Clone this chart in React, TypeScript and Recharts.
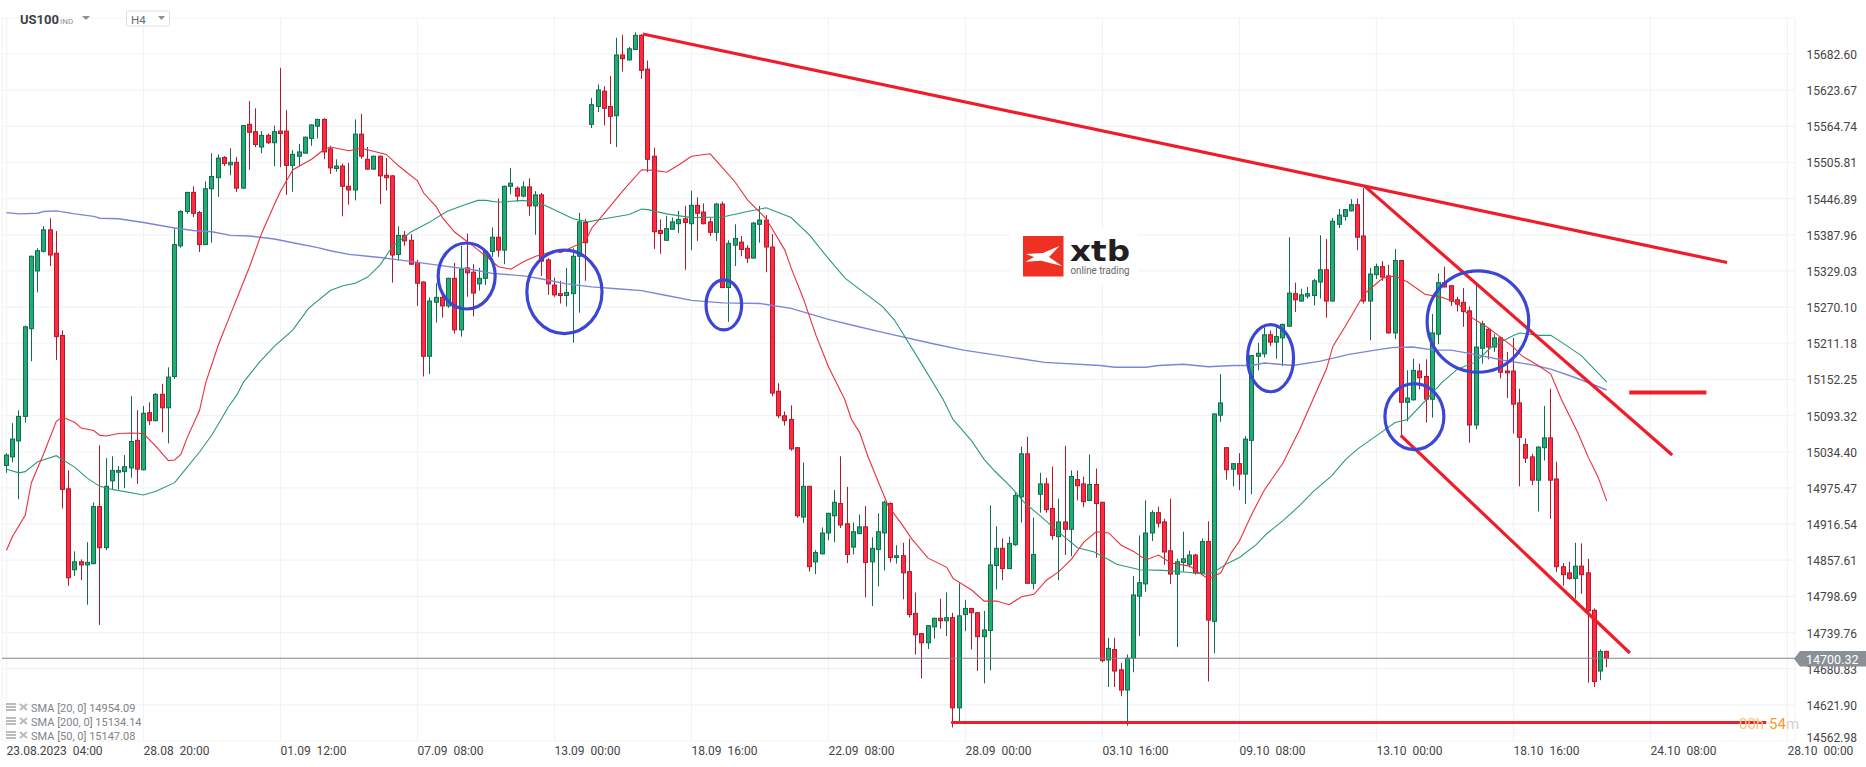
import React from "react";
import { ComposedChart, Bar, Line, XAxis, YAxis, CartesianGrid, ReferenceDot, ReferenceLine } from "recharts";

const opens = [
15012,15026,15052,15092,15235,15329,15361,15396,15358,15224,
14974,14842,14855,14850,14852,14945,14878,14987,15001,15002,
15008,15053,15005,15098,15085,15128,15106,15157,15370,15426,
15457,15424,15372,15463,15481,15514,15502,15506,15464,15568,
15556,15531,15550,15538,15557,15557,15501,15516,15521,15545,
15565,15576,15528,15496,15500,15467,15461,15552,15511,15495,
15516,15485,15484,15356,15387,15379,15343,15311,15190,15278,
15286,15272,15317,15233,15334,15327,15308,15317,15361,15384,
15363,15467,15464,15451,15466,15435,15453,15347,15306,15292,
15289,15292,15353,15408,15568,15597,15622,15597,15582,15681,
15673,15690,15713,15658,15516,15395,15379,15397,15406,15414,
15406,15436,15425,15409,15392,15438,15302,15371,15376,15366,
15350,15405,15412,15368,15133,15093,15087,15041,14928,14978,
14855,14868,14902,14930,14950,14917,14879,14901,14912,14855,
14875,14902,14950,14862,14865,14839,14771,14738,14723,14749,
14763,14759,14764,14617,14769,14779,14772,14733,14743,14849,
14877,14844,14883,14961,15031,14820,14965,14982,14942,14896,
14920,14908,14989,14982,14955,14981,14952,14695,14712,14679,
14646,14698,14799,14819,14902,14935,14920,14873,14835,14854,
14851,14866,14837,14888,14758,15094,15041,15006,15015,14998,
15053,15190,15194,15225,15213,15220,15239,15292,15280,15288,
15289,15311,15331,15280,15405,15418,15427,15437,15386,15280,
15323,15336,15321,15228,15346,15115,15119,15166,15157,15120,
15226,15310,15305,15282,15278,15264,15078,15203,15234,15205,
15220,15166,15166,15114,15046,15026,14988,15041,15057,14990,
14847,14837,14828,14848,14837,14776,14677,14709,
];
const highs = [
15032,15081,15102,15240,15354,15366,15402,15415,15394,15232,
15004,14872,14859,14887,14952,15045,15024,15027,15011,15029,
15125,15102,15109,15115,15130,15145,15172,15399,15428,15458,
15467,15427,15475,15521,15519,15516,15529,15515,15567,15606,
15594,15557,15553,15566,15660,15591,15526,15536,15548,15568,
15577,15578,15533,15511,15504,15505,15576,15585,15531,15517,
15517,15513,15485,15402,15394,15389,15347,15312,15286,15309,
15298,15318,15342,15370,15390,15340,15334,15364,15400,15447,
15468,15497,15467,15475,15480,15459,15456,15350,15318,15313,
15334,15366,15424,15414,15611,15633,15630,15647,15709,15714,
15694,15718,15715,15672,15530,15413,15419,15416,15427,15435,
15460,15449,15439,15416,15440,15442,15379,15405,15386,15371,
15409,15435,15420,15389,15146,15100,15110,15042,15017,14979,
14874,14911,14935,14972,15027,14977,14919,14932,14946,14895,
14934,14955,14952,14882,14886,14893,14805,14739,14752,14764,
14795,14805,14772,14820,14793,14780,14773,14775,14947,14913,
14893,14896,14968,15043,15059,14927,15000,14992,15010,14958,
15044,15004,15004,14994,15030,15007,14953,14731,14731,14690,
14704,14832,14898,14955,14939,14945,14925,14958,14860,14904,
14873,14868,14893,14921,15097,15161,15042,15016,15032,15060,
15192,15212,15237,15232,15239,15243,15384,15310,15300,15303,
15316,15387,15381,15415,15430,15430,15446,15447,15464,15334,
15341,15345,15339,15365,15347,15167,15186,15178,15185,15259,
15325,15336,15306,15287,15301,15271,15307,15248,15236,15226,
15222,15197,15220,15137,15056,15031,15043,15109,15137,15018,
14853,14855,14886,14885,14860,14779,14712,14710,
];
const lows = [
15000,15017,14957,15082,15182,15294,15359,15337,15184,14942,
14816,14832,14825,14785,14851,14752,14874,14973,14973,14975,
14992,14982,15004,15078,15084,15066,15048,15153,15367,15422,
15417,15360,15371,15375,15450,15500,15485,15458,15463,15494,
15531,15521,15536,15500,15498,15453,15458,15500,15520,15533,
15545,15511,15487,15491,15418,15437,15444,15512,15494,15494,
15438,15460,15310,15346,15370,15339,15272,15157,15161,15245,
15253,15269,15227,15222,15287,15255,15297,15306,15352,15352,
15340,15454,15442,15449,15419,15388,15321,15290,15287,15276,
15271,15212,15261,15313,15562,15588,15566,15536,15531,15654,
15672,15689,15642,15490,15365,15357,15378,15396,15391,15331,
15363,15378,15405,15386,15378,15301,15246,15337,15353,15342,
15349,15375,15327,15125,15089,15077,15036,14927,14918,14839,
14835,14867,14890,14887,14910,14853,14867,14900,14797,14783,
14815,14841,14854,14852,14794,14764,14704,14665,14713,14730,
14746,14734,14585,14595,14742,14712,14677,14657,14678,14810,
14825,14843,14881,14919,14819,14810,14935,14935,14891,14825,
14866,14864,14955,14944,14954,14862,14691,14651,14651,14636,
14588,14675,14734,14806,14889,14911,14850,14819,14716,14839,
14846,14834,14834,14660,14706,15083,14989,14978,14972,14949,
14965,15167,15188,15207,15186,15174,15238,15262,15279,15284,
15273,15284,15253,15279,15399,15411,15426,15363,15276,15216,
15316,15313,15227,15218,15062,15084,15118,15136,15082,15090,
15210,15302,15272,15263,15238,15049,15071,15178,15185,15197,
15154,15122,15064,14978,15016,14980,14937,15020,14925,14838,
14816,14826,14795,14803,14658,14651,14662,14683,
];
const closes = [
15029,15055,15092,15238,15353,15362,15396,15355,15222,14973,
14829,14855,14850,14854,14945,14878,14978,15004,15004,15010,
15051,15006,15097,15085,15128,15106,15156,15372,15426,15457,
15423,15372,15463,15483,15513,15504,15506,15464,15566,15555,
15535,15550,15538,15556,15553,15501,15519,15523,15547,15567,
15576,15523,15497,15500,15467,15461,15552,15516,15495,15516,
15484,15481,15355,15387,15378,15340,15309,15190,15280,15286,
15272,15317,15233,15332,15326,15293,15317,15361,15384,15363,
15467,15472,15451,15466,15435,15453,15345,15308,15290,15289,
15294,15353,15409,15375,15600,15624,15594,15581,15681,15675,
15691,15713,15656,15511,15393,15390,15398,15409,15413,15408,
15436,15423,15406,15392,15438,15302,15374,15382,15364,15350,
15407,15412,15368,15130,15093,15085,15039,14930,14978,14847,
14870,14902,14934,14952,14915,14867,14904,14912,14854,14877,
14904,14952,14862,14865,14837,14769,14736,14723,14751,14763,
14759,14764,14617,14767,14779,14772,14733,14744,14850,14877,
14844,14885,14963,15031,14820,14867,14982,14940,14898,14920,
14908,14994,14979,14953,14981,14950,14694,14714,14677,14646,
14698,14801,14821,14902,14935,14918,14871,14835,14855,14860,
14866,14837,14888,14760,15096,15114,15005,15015,14998,15055,
15191,15195,15225,15213,15222,15242,15293,15282,15290,15292,
15313,15331,15280,15410,15420,15429,15437,15384,15280,15324,
15336,15319,15228,15346,15115,15122,15167,15155,15120,15228,
15310,15303,15280,15275,15263,15078,15205,15243,15205,15220,
15164,15163,15112,15058,15024,14988,15042,15057,14988,14847,
14834,14828,14848,14834,14775,14660,14709,14698,
];

const sma20: [number, number][] = [
[0,14874],[1,14897],[3,14931],[4,14984],[6,15032],[8,15084],[9,15091],[11,15082],[12,15073],[14,15069],[15,15061],[16,15060],[18,15064],[20,15065],[22,15064],[24,15043],[26,15020],[27,15021],[28,15030],[29,15057],[31,15102],[32,15147],[34,15208],[36,15259],[37,15284],[39,15335],[41,15391],[43,15437],[44,15459],[46,15494],[49,15511],[51,15527],[52,15531],[55,15525],[57,15529],[61,15519],[63,15500],[66,15476],[67,15456],[69,15434],[70,15416],[72,15392],[75,15369],[77,15353],[79,15336],[81,15332],[83,15344],[85,15353],[88,15362],[89,15359],[93,15378],[94,15399],[96,15423],[99,15460],[102,15494],[104,15493],[106,15490],[108,15502],[110,15516],[113,15520],[115,15497],[117,15474],[119,15445],[122,15414],[125,15363],[126,15334],[128,15283],[130,15224],[132,15173],[134.6,15120],[135.7,15087],[137,15066],[138.4,15025],[141.6,14946],[143.8,14916],[145.4,14892],[148,14861],[151,14846],[152,14828],[155,14809],[157,14791],[159,14791],[161,14785],[163,14798],[165,14802],[167,14825],[169,14839],[171,14859],[173,14887],[175,14904],[176,14903],[177,14902],[179,14882],[181,14872],[183,14858],[185,14866],[187,14853],[190,14848],[191.6,14837],[193,14827],[195,14837],[196.7,14870],[198,14889],[200,14933],[202,14972],[205,15016],[207.7,15071],[212,15170],[213,15206],[215,15239],[218,15291],[219.8,15307],[221,15317],[223,15321],[225,15311],[227.8,15291],[230.5,15286],[233,15277],[235,15255],[238,15236],[239.8,15222],[242,15205],[243.3,15191],[246,15175],[248,15161],[249.7,15120],[252.4,15064],[254,15026],[255.6,14993],[257,14954],
];
const sma50: [number, number][] = [
[0,15006],[2,15000],[3,15002],[5,15018],[8,15028],[11,15009],[13,14991],[15,14978],[17,14973],[22,14964],[24,14970],[27,14984],[29,15009],[31,15034],[33,15062],[35.6,15107],[37,15127],[38,15147],[40.6,15180],[43,15206],[46,15233],[48.5,15268],[52,15297],[54,15305],[56,15309],[58,15319],[60,15339],[62,15369],[65,15393],[67.7,15407],[70.7,15426],[73.6,15437],[75.7,15444],[77,15444],[79,15441],[83,15444],[86,15438],[87.3,15432],[91,15414],[93.4,15409],[96,15414],[100,15421],[102,15430],[103,15429],[106,15422],[110,15416],[115,15417],[119,15426],[122,15432],[126,15416],[129,15387],[132,15349],[134.7,15317],[140.7,15271],[142.6,15249],[146.4,15187],[150.4,15120],[152,15087],[153.4,15071],[155,15052],[157,15022],[158.7,15003],[161.4,14976],[163.5,14951],[166,14930],[169,14903],[172,14878],[174.7,14871],[176,14864],[178.3,14851],[182,14842],[185.8,14841],[189.5,14838],[192.7,14835],[194,14839],[196,14852],[198,14862],[200.7,14883],[202.3,14900],[205,14922],[207.7,14947],[209.8,14969],[212.8,14995],[215,15021],[217,15039],[219.8,15059],[223,15082],[225,15087],[227.8,15117],[230.5,15147],[233,15169],[235.8,15180],[238.5,15205],[242,15224],[243,15228],[246,15224],[248,15224],[249.7,15213],[252.9,15191],[257,15148],
];
const sma200: [number, number][] = [
[0,15424],[2,15422],[5,15423],[6,15426],[8,15427],[11,15422],[14,15418],[15,15415],[18,15414],[22,15408],[27,15399],[30,15395],[33,15393],[36,15387],[39,15386],[43,15381],[47,15373],[50,15367],[52,15362],[55,15356],[58,15353],[60,15351],[63,15347],[66,15343],[71,15336],[75,15331],[78,15325],[83,15321],[86,15316],[90,15308],[94,15303],[98,15300],[102,15297],[106,15289],[110,15281],[115,15277],[121,15276],[126,15268],[132,15250],[135.7,15241],[140.7,15229],[149,15210],[153.7,15200],[166.7,15180],[175.6,15175],[178,15172],[183,15172],[185,15175],[189,15177],[193,15173],[197,15175],[200,15175],[202,15179],[206.6,15175],[211,15182],[215.6,15193],[219.8,15200],[222.5,15204],[225.7,15205],[229.4,15200],[232,15200],[235.8,15193],[240.6,15183],[245,15176],[248,15169],[252,15155],[257,15135],
];

// hand-drawn trend lines, endpoints as [candle index, price]
const trendLines: [number, number][][] = [
  [[102.2,15715.2],[276.3,15342.8]],
  [[218.1,15467.2],[267.5,15029.1]],
  [[223.9,15061],[260.7,14706.4]],
  [[151.7,14593.1],[282.6,14593.1]],
  [[260.6,15131.1],[273,15131.1]],
];
// hand-drawn circles: [candle index, price, rx, ry]
const circles: [number, number, number, number][] = [
  [73.9,15320.8,28.5,33],
  [89.6,15295,37.6,41.7],
  [115.2,15273.6,17.8,25],
  [203,15186.9,23,33.6],
  [226.1,15091.7,29.5,33],
  [236.3,15246.6,50.8,50.7],
];

const priceTicks = [15682.60,15623.67,15564.74,15505.81,15446.89,15387.96,15329.03,15270.10,15211.18,15152.25,15093.32,15034.40,14975.47,14916.54,14857.61,14798.69,14739.76,14680.83,14621.90,14562.98];
const timeTicks = [0,22,44,66,88,110,132,154,176,198,220,242,264,286];
const timeLabels = ["23.08.2023  04:00","28.08  20:00","01.09  12:00","07.09  08:00","13.09  00:00","18.09  16:00","22.09  08:00","28.09  00:00","03.10  16:00","09.10  08:00","13.10  00:00","18.10  16:00","24.10  08:00","28.10  00:00"];
const legendRows = ["SMA [20, 0] 14954.09","SMA [200, 0] 15134.14","SMA [50, 0] 15147.08"];
const lastPrice = 14697.8;
const lastPriceLabel = "14700.32";

const candles = opens.map((o, i) => ({ x: i, open: o, high: highs[i], low: lows[i], close: closes[i] }));
const toPts = (a: [number, number][]) => a.map(([x, v]) => ({ x, v }));

const FONT = "Roboto, sans-serif";

function Candle(props: any) {
  const { x, y, width, height, payload } = props;
  const { open, close, high, low } = payload;
  const up = close >= open;
  const k = height / (high - low);
  const top = y + (high - Math.max(open, close)) * k;
  const bot = y + (high - Math.min(open, close)) * k;
  const cx = Math.floor(x + width / 2) + 0.5;
  const fill = up ? "#22ab72" : "#ff2a40";
  const edge = up ? "#0f6d4e" : "#b2192c";
  return (
    <g>
      <line x1={cx} x2={cx} y1={y} y2={y + height} stroke={edge} strokeWidth={1} />
      <rect x={cx - 2} y={top} width={4} height={Math.max(bot - top, 1)} fill={fill} stroke={edge} strokeWidth={1} />
    </g>
  );
}

const YTick = (p: any) => {
  const v = Number(p.payload.value);
  return (
    <text x={1806.5} y={p.y + (v === 14562.98 ? 1 : 5)} fontFamily={FONT} fontSize={12} fill="#444">{v.toFixed(2)}</text>
  );
};
const XTick = (p: any) => (
  <text x={p.x} y={755} fontFamily={FONT} fontSize={12} fill="#444" style={{ whiteSpace: "pre" }}>
    {timeLabels[timeTicks.indexOf(p.payload.value)]}
  </text>
);

function Overlay() {
  return (
    <svg width={1866} height={767} style={{ position: "absolute", left: 0, top: 0, pointerEvents: "none" }}>
      {/* header */}
      <text x={20} y={24} fontFamily={FONT} fontSize={13} fontWeight={700} fill="#3d4247">US100</text>
      <text x={60} y={24} fontFamily={FONT} fontSize={8} fill="#8a8f94">IND</text>
      <polygon points="82,16 90,16 86,20" fill="#8a8f94" />
      <rect x={126.5} y={11} width={43} height={15} rx={1.5} fill="#fff" stroke="#dde0e2" />
      <text x={131} y={24} fontFamily={FONT} fontSize={11.5} fill="#666c72">H4</text>
      <polygon points="158,16 165,16 161.5,20" fill="#8a8f94" />
      {/* logo */}
      <rect x={1010} y={230} width={128} height={53} fill="#fff" />
      <rect x={1023} y={236} width={40.5} height={40.5} fill="#ef3124" />
      <polygon points="1026,254 1043,253 1059.5,246 1049,257 1062,266 1041,260.7 1025.5,261.7 1034,257" fill="#fff" />
      <text x={1070} y={261} fontFamily="DejaVu Sans" fontWeight={700} fontSize={29} fill="#231f20" textLength={60} lengthAdjust="spacingAndGlyphs">xtb</text>
      <text x={1070.5} y={273.5} fontFamily={FONT} fontSize={10} fill="#666" textLength={59} lengthAdjust="spacingAndGlyphs">online trading</text>
      {/* legend */}
      {legendRows.map((t, r) => {
        const y = 708 + r * 14;
        return (
          <g key={t}>
            <rect x={6} y={y - 5} width={10} height={2} fill="#bbb" />
            <rect x={6} y={y - 2} width={10} height={2} fill="#bbb" />
            <rect x={6} y={y + 1} width={10} height={2} fill="#bbb" />
            <path d={`M20 ${y - 4}L27 ${y + 2}M27 ${y - 4}L20 ${y + 2}`} stroke="#bbb" strokeWidth={2} />
            <text x={31} y={y + 4} fontFamily={FONT} fontSize={11} fill="#808488">{t}</text>
          </g>
        );
      })}
      {/* countdown */}
      <text y={728.5} fontFamily={FONT} fontSize={15}>
        <tspan x={1739} fill="#fbbf7a">00h</tspan>
        <tspan x={1769} fill="#f79a2a">54</tspan>
        <tspan x={1786} fill="#d0d0d0">m</tspan>
      </text>
      {/* last price tag */}
      <polygon points="1794,658.7 1800,651 1866,651 1866,666.5 1800,666.5" fill="#8a9096" />
      <text x={1806} y={663.5} fontFamily={FONT} fontSize={12.5} fill="#fff">{lastPriceLabel}</text>
    </svg>
  );
}

export default function App() {
  return (
    <div style={{ position: "absolute", left: 0, top: 0, width: 1866, height: 767, background: "#fff", overflow: "hidden" }}>
      <ComposedChart width={1866} height={767} data={candles} margin={{ top: 18, right: 0, bottom: 0, left: 2 }}>
        <CartesianGrid stroke="#f2f3f4" strokeWidth={1.2} />
        <XAxis dataKey="x" type="number" domain={[-0.7227, 287.22]} allowDataOverflow ticks={timeTicks} interval={0} height={26} axisLine={false} tickLine={false} tick={XTick} />
        <YAxis orientation="right" type="number" domain={[14562.98, 15741.27]} allowDataOverflow ticks={priceTicks} interval={0} width={71} axisLine={false} tickLine={false} tick={YTick} />
        <ReferenceLine y={lastPrice} stroke="#80868c" strokeWidth={1.2} />
        <Bar dataKey={(d: any) => [d.low, d.high]} barSize={5} isAnimationActive={false} shape={Candle} />
        <Line data={toPts(sma200)} dataKey="v" stroke="#7c86d9" strokeWidth={1.4} dot={false} isAnimationActive={false} legendType="none" />
        <Line data={toPts(sma50)} dataKey="v" stroke="#2a9a78" strokeWidth={1.1} dot={false} isAnimationActive={false} legendType="none" />
        <Line data={toPts(sma20)} dataKey="v" stroke="#e9303c" strokeWidth={1.1} dot={false} isAnimationActive={false} legendType="none" />
        {trendLines.map((seg, n) => (
          <Line key={n} data={toPts(seg)} dataKey="v" stroke="#ef1c2b" strokeWidth={n === 4 ? 4 : 3.2} dot={false} isAnimationActive={false} legendType="none" />
        ))}
        {circles.map(([x, y, rx, ry], n) => (
          <ReferenceDot key={n} x={x} y={y} ifOverflow="visible" shape={(p: any) => (
            <ellipse cx={p.cx} cy={p.cy} rx={rx} ry={ry} fill="none" stroke="#3c46d4" strokeWidth={3.2} />
          )} />
        ))}
      </ComposedChart>
      <Overlay />
    </div>
  );
}
